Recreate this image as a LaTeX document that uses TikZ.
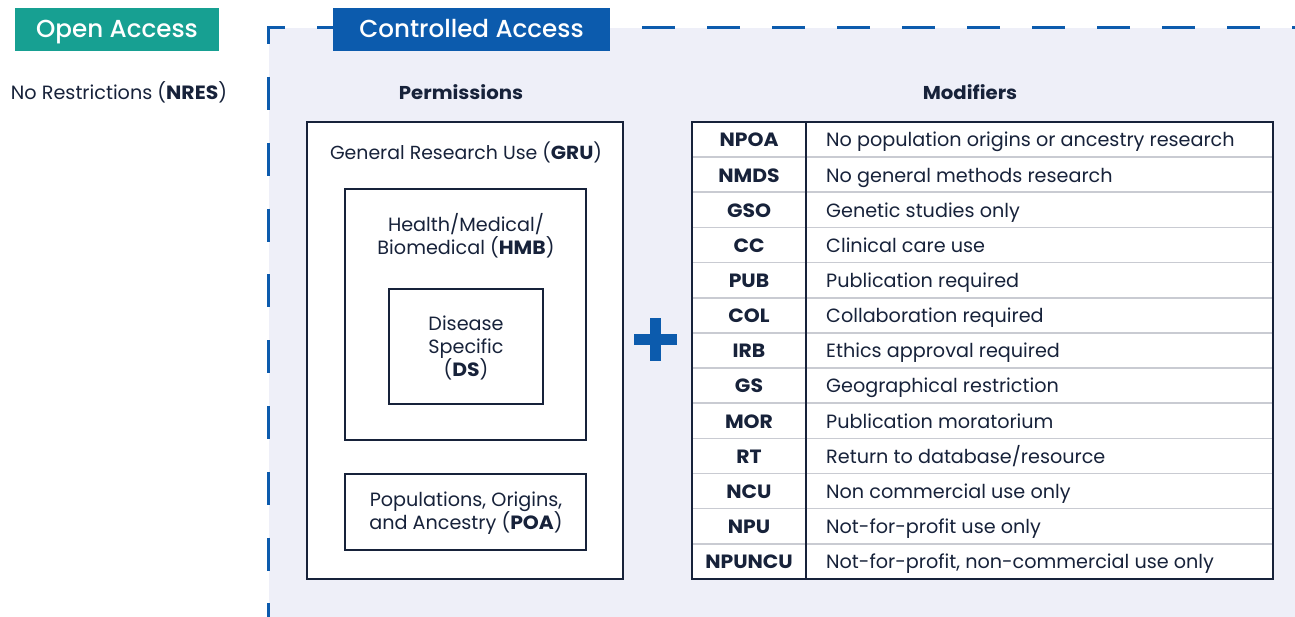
\documentclass[tikz,border=0pt]{standalone}
\usepackage{fontspec}
\setmainfont{Poppins}[BoldFeatures={FakeStretch=1.06}]
\newfontfamily\tabfont{Poppins Medium}
\definecolor{oaTeal}{HTML}{17A092}
\definecolor{caBlue}{HTML}{0C5BAD}
\definecolor{bgLav}{HTML}{EEEFF8}
\definecolor{ink}{HTML}{17223A}
\definecolor{ruleGray}{HTML}{C9CBD2}
\tikzset{
  tab/.style={inner sep=0pt, text=white, text height=17pt, text depth=0pt,
    font=\tabfont\fontsize{24.6}{28}\selectfont},
  body/.style={inner sep=0pt, anchor=mid, yshift=-4pt, text=ink, font=\fontsize{19.2}{23}\selectfont},
  heading/.style={inner sep=0pt, anchor=mid, yshift=-4pt, text=ink, font=\fontsize{18.6}{23}\selectfont\bfseries},
  permbox/.style={draw=ink, fill=white},
  codecell/.style={inner sep=0pt, anchor=mid, yshift=-4pt, text=ink, font=\fontsize{19.2}{23}\selectfont\bfseries},
  desccell/.style={inner sep=0pt, anchor=mid west, yshift=-4pt, text=ink, font=\fontsize{19.2}{23}\selectfont},
  border/.style={draw=caBlue, line width=3pt},
}
\begin{document}
\begin{tikzpicture}[x=1pt,y=-1pt]
\useasboundingbox (0,0) rectangle (1295,617);
\fill[white] (0,0) rectangle (1295,617);

% controlled-access panel background
\fill[bgLav] (269,28) rectangle (1295,617);

% dashed outline of the panel
\draw[border, dash pattern=on 33pt off 32pt] (268,44) -- (268,28) -- (1295,28);
\draw[border, dash pattern=on 33pt off 32.8pt] (268,77) -- (268,617);

% tabs
\node[tab, fill=oaTeal, minimum width=204pt, minimum height=43pt] (open) at (117,29.5) {Open Access};
\node[tab, fill=caBlue, minimum width=277pt, minimum height=43pt] (ctrl) at (471.5,29.5) {Controlled Access};

\node[body] (nres) at (119,93) {No Restrictions (\textbf{NRES})};

% permissions
\node[heading] (permh) at (461,93) {Permissions};
\draw[permbox, line width=2.8pt] (307,122) rectangle (623,579);
\node[body, font=\fontsize{18.9}{23}\selectfont] (gru) at (466,153) {General Research Use (\textbf{GRU})};
\draw[permbox, line width=2.4pt] (345,189) rectangle (586,440);
\node[body] (hmb1) at (466,225) {Health/Medical/};
\node[body] (hmb2) at (466,248) {Biomedical (\textbf{HMB})};
\draw[permbox, line width=1.8pt] (389,289) rectangle (543,404);
\node[body] (ds1) at (466,324) {Disease};
\node[body] (ds2) at (466,347) {Specific};
\node[body] (ds3) at (466,370) {(\textbf{DS})};
\draw[permbox, line width=1.6pt] (345,474) rectangle (586,550);
\node[body] (poa1) at (466,500) {Populations, Origins,};
\node[body] (poa2) at (466,523) {and Ancestry (\textbf{POA})};

% plus sign
\fill[caBlue] (650,318) rectangle (661,361);
\fill[caBlue] (634,334) rectangle (677,345);

% modifiers
\node[heading] (modh) at (970,93) {Modifiers};
\fill[white] (692,122) rectangle (1273,579);
\foreach \i in {1,...,12}
  \draw[ruleGray, line width=1.6pt] (692,122+35.15*\i) -- (1273,122+35.15*\i);
\draw[ink, line width=2pt] (806,122) -- (806,579);
\draw[ink, line width=2.4pt] (692,122) rectangle (1273,579);

\node[codecell] (c1) at (749,140.2) {NPOA};
\node[desccell] (d1) at (826,140.2) {No population origins or ancestry research};
\node[codecell] (c2) at (749,175.3) {NMDS};
\node[desccell] (d2) at (826,175.3) {No general methods research};
\node[codecell] (c3) at (749,210.5) {GSO};
\node[desccell] (d3) at (826,210.5) {Genetic studies only};
\node[codecell] (c4) at (749,245.6) {CC};
\node[desccell] (d4) at (826,245.6) {Clinical care use};
\node[codecell] (c5) at (749,280.8) {PUB};
\node[desccell] (d5) at (826,280.8) {Publication required};
\node[codecell] (c6) at (749,315.9) {COL};
\node[desccell] (d6) at (826,315.9) {Collaboration required};
\node[codecell] (c7) at (749,351.1) {IRB};
\node[desccell] (d7) at (826,351.1) {Ethics approval required};
\node[codecell] (c8) at (749,386.2) {GS};
\node[desccell] (d8) at (826,386.2) {Geographical restriction};
\node[codecell] (c9) at (749,421.4) {MOR};
\node[desccell] (d9) at (826,421.4) {Publication moratorium};
\node[codecell] (c10) at (749,456.5) {RT};
\node[desccell] (d10) at (826,456.5) {Return to database/resource};
\node[codecell] (c11) at (749,491.7) {NCU};
\node[desccell] (d11) at (826,491.7) {Non commercial use only};
\node[codecell] (c12) at (749,526.8) {NPU};
\node[desccell] (d12) at (826,526.8) {Not-for-profit use only};
\node[codecell] (c13) at (749,562.0) {NPUNCU};
\node[desccell] (d13) at (826,562.0) {Not-for-profit, non-commercial use only};
\end{tikzpicture}
\end{document}
